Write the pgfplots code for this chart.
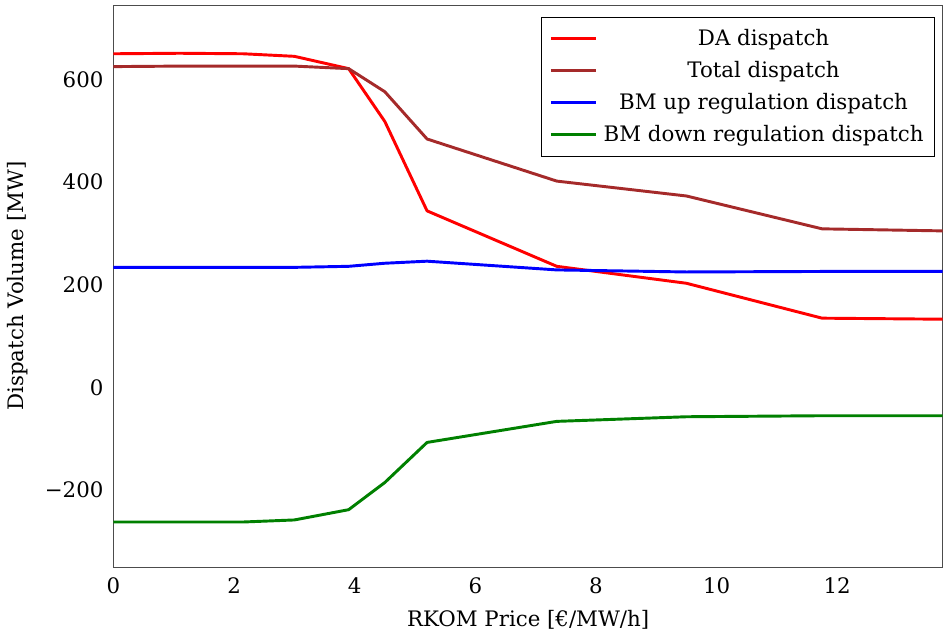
\documentclass[border=0pt]{standalone}
\usepackage{fontspec}
\setmainfont{DejaVu Serif}
\usepackage{pgfplots}
\pgfplotsset{compat=1.18}
\definecolor{dabrown}{RGB}{165,42,42}
\definecolor{dagreen}{RGB}{0,128,0}
\newcommand{\chartfont}{\fontsize{16}{19}\selectfont}
\begin{document}
\chartfont
\begin{tikzpicture}
\begin{axis}[
  name=main,
  scale only axis,
  width=622.5pt, height=422pt,
  xmin=0, xmax=13.75, ymin=-350, ymax=745,
  xtick={0,2,...,12}, ytick={-200,0,...,600},
  yticklabels={−200,0,200,400,600},
  /pgf/number format/assume math mode=true,
  major tick length=0pt,
  axis line style={black!70},
  tick label style={font=\chartfont},
  yticklabel style={xshift=-2pt},
  xticklabel style={yshift=-2pt},
  label style={font=\chartfont},
  xlabel={RKOM Price [€/MW/h]},
  ylabel={Dispatch Volume [MW]},
  ylabel shift=2pt,
  xlabel shift=2pt,
  legend style={at={(rel axis cs:0.99,0.979)}, anchor=north east,
    draw=black, font=\chartfont, row sep=5.5pt, inner xsep=6pt, inner ysep=7pt,
    /tikz/every odd column/.append style={column sep=2.5pt}},
  legend image code/.code={\draw[#1] (0pt,0pt) -- (34pt,0pt);},
  legend cell align=center,
  every axis plot/.append style={line width=2.2pt, line join=round},
]
\addplot[red] coordinates {(0,650) (1.1,651) (2.15,650) (3,645) (3.9,621) (4.5,518) (5.2,344) (7.35,236) (9.5,203) (11.75,135) (13.75,133)};
\addlegendentry{DA dispatch}
\addplot[dabrown] coordinates {(0,625) (1.1,626) (2.15,626) (3,626) (3.9,621) (4.5,576) (5.2,484) (7.35,402) (9.5,373) (11.75,309) (13.75,305)};
\addlegendentry{Total dispatch}
\addplot[blue] coordinates {(0,234) (1.1,234) (2.15,234) (3,234) (3.9,236) (4.5,242) (5.2,246) (7.35,229) (9.5,225) (11.75,226) (13.75,226)};
\addlegendentry{BM up regulation dispatch}
\addplot[dagreen] coordinates {(0,-262) (1.1,-262) (2.15,-262) (3,-258) (3.9,-238) (4.5,-185) (5.2,-107) (7.35,-66) (9.5,-57) (11.75,-55) (13.75,-55)};
\addlegendentry{BM down regulation dispatch}
\end{axis}
% a little white room above the frame
\path (main.north west) ++(0,3.75pt);
\end{tikzpicture}
\end{document}
